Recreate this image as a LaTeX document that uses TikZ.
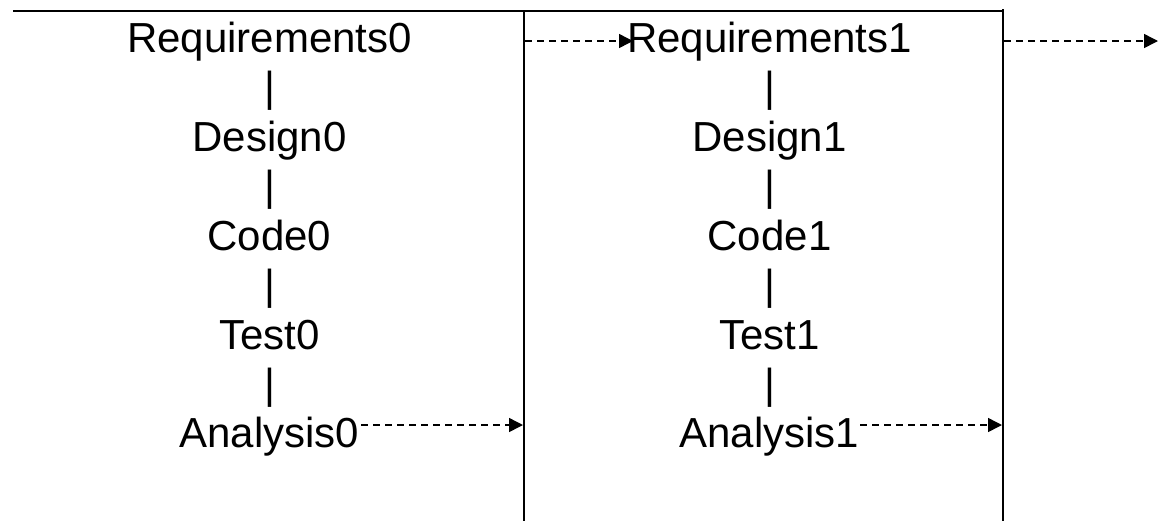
\documentclass[tikz,border=0pt]{standalone}
\usepackage{fontspec}
\setmainfont{Liberation Sans}
\usetikzlibrary{arrows.meta}
\begin{document}
\begin{tikzpicture}[x=0.5pt,y=-0.5pt,
  lbl/.style={anchor=base,inner sep=0pt,font=\fontsize{21}{25}\selectfont},
  frame/.style={line width=1pt},
  flow/.style={line width=0.75pt,dash pattern=on 3.5pt off 2.5pt,-{Triangle[length=7pt,width=7pt]}}]
\useasboundingbox (0,0) rectangle (1158,521);
% frame lines
\coordinate (tl) at (13,11);
\coordinate (tr) at (1002,11);
\coordinate (v1t) at (524,11);
\coordinate (v1b) at (524,521);
\coordinate (v2t) at (1003,9);
\coordinate (v2b) at (1003,521);
\draw[frame] (tl) -- (tr);
\draw[frame] (v1t) -- (v1b);
\draw[frame] (v2t) -- (v2b);
% column 0
\node[lbl] (r0) at (269.5,52) {Requirements0};
\node[lbl] (b01) at (269.5,101) {|};
\node[lbl] (d0) at (269.5,151) {Design0};
\node[lbl] (b02) at (269.5,200) {|};
\node[lbl] (c0) at (269.5,250) {Code0};
\node[lbl] (b03) at (269.5,299) {|};
\node[lbl] (t0) at (269.5,349) {Test0};
\node[lbl] (b04) at (269.5,398) {|};
\node[lbl] (a0) at (269.5,447) {Analysis0};
% column 1
\node[lbl] (r1) at (769.5,52) {Requirements1};
\node[lbl] (b11) at (769.5,101) {|};
\node[lbl] (d1) at (769.5,151) {Design1};
\node[lbl] (b12) at (769.5,200) {|};
\node[lbl] (c1) at (769.5,250) {Code1};
\node[lbl] (b13) at (769.5,299) {|};
\node[lbl] (t1) at (769.5,349) {Test1};
\node[lbl] (b14) at (769.5,398) {|};
\node[lbl] (a1) at (769.5,447) {Analysis1};
% arrows
\coordinate (s1) at (525,41);
\coordinate (e1) at (633,41);
\coordinate (s2) at (1004,41);
\coordinate (e2) at (1158,41);
\coordinate (s3) at (361,425);
\coordinate (e3) at (523,425);
\coordinate (s4) at (860,425);
\coordinate (e4) at (1002,425);
\draw[flow] (s1) -- (e1);
\draw[flow] (s2) -- (e2);
\draw[flow] (s3) -- (e3);
\draw[flow] (s4) -- (e4);
\end{tikzpicture}
\end{document}
